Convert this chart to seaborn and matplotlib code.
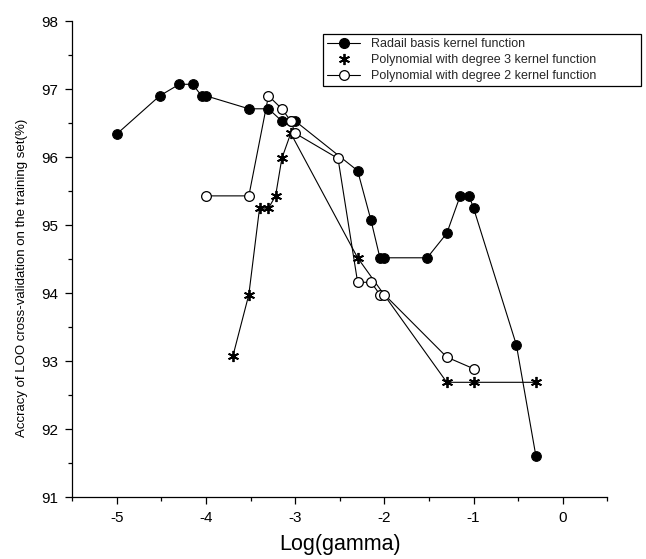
import matplotlib
matplotlib.use("Agg")
import matplotlib.pyplot as plt
from matplotlib.lines import Line2D
from matplotlib.ticker import MultipleLocator
import seaborn as sns
import pandas as pd

# ---- data ----
rbf_x = [-5.0, -4.52, -4.30, -4.15, -4.05, -4.0, -3.52, -3.30, -3.15, -3.05, -3.0,
         -2.30, -2.15, -2.05, -2.0, -1.52, -1.30, -1.15, -1.05, -1.0, -0.52, -0.30]
rbf_y = [96.34, 96.90, 97.07, 97.07, 96.90, 96.90, 96.71, 96.71, 96.53, 96.53, 96.53,
         95.80, 95.07, 94.52, 94.52, 94.52, 94.88, 95.43, 95.43, 95.25, 93.24, 91.60]

poly3_x = [-3.70, -3.52, -3.40, -3.30, -3.22, -3.15, -3.05, -2.30, -1.30, -1.0, -0.30]
poly3_y = [93.07, 93.98, 95.25, 95.25, 95.43, 95.98, 96.35, 94.52, 92.69, 92.69, 92.69]

poly2_x = [-4.0, -3.52, -3.30, -3.15, -3.05, -3.0, -2.52, -2.30, -2.15, -2.05, -2.0, -1.30, -1.0]
poly2_y = [95.43, 95.43, 96.90, 96.71, 96.53, 96.35, 95.98, 94.16, 94.16, 93.98, 93.98, 93.06, 92.89]

series_names = ["Radail basis kernel function",
                "Polynomial with degree 3 kernel function",
                "Polynomial with degree 2 kernel function"]

x_label = "Log(gamma)"
y_label = "Accracy of LOO cross-validation on the training set(%)"

sns.set_theme(style="ticks")
plt.rcParams["font.family"] = ["Liberation Sans", "DejaVu Sans"]
plt.rcParams["axes.unicode_minus"] = False

fig = plt.figure(figsize=(6.46, 5.59), dpi=100)
ax = fig.add_axes([0.1119, 0.1104, 0.8282, 0.852])

star = (6, 2, 0)
df_rbf = pd.DataFrame({"x": rbf_x, "y": rbf_y})
df_p3 = pd.DataFrame({"x": poly3_x, "y": poly3_y})
df_p2 = pd.DataFrame({"x": poly2_x, "y": poly2_y})

sns.lineplot(data=df_rbf, x="x", y="y", sort=False, estimator=None, ax=ax,
             color="black", linewidth=0.8, marker="o", markersize=7,
             markerfacecolor="black", markeredgecolor="black", legend=False, zorder=3)
sns.lineplot(data=df_p3, x="x", y="y", sort=False, estimator=None, ax=ax,
             color="black", linewidth=0.8, marker=star, markersize=8,
             markeredgewidth=1.3, markeredgecolor="black", legend=False, zorder=4)
sns.lineplot(data=df_p2, x="x", y="y", sort=False, estimator=None, ax=ax,
             color="black", linewidth=0.8, marker="o", markersize=7,
             markerfacecolor="white", markeredgecolor="black", markeredgewidth=0.9,
             legend=False, zorder=5)

ax.set_xlim(-5.5, 0.5)
ax.set_ylim(91, 98)
ax.xaxis.set_major_locator(MultipleLocator(1))
ax.xaxis.set_minor_locator(MultipleLocator(0.5))
ax.yaxis.set_major_locator(MultipleLocator(1))
ax.yaxis.set_minor_locator(MultipleLocator(0.5))
ax.tick_params(which="major", direction="out", length=5, width=0.9, labelsize=11,
               color="black", labelcolor="black", pad=5)
ax.tick_params(which="minor", direction="out", length=3, width=0.9, color="black")

for s in ["top", "right"]:
    ax.spines[s].set_visible(False)
for s in ["left", "bottom"]:
    ax.spines[s].set_linewidth(0.9)
    ax.spines[s].set_color("black")

ax.set_xlabel(x_label, fontsize=15.5, color="black", labelpad=6)
ax.set_ylabel(y_label, fontsize=9.5, color="black", labelpad=10)
ax.yaxis.set_label_coords(-0.083, 0.46)

handles = [
    Line2D([], [], color="black", lw=0.8, marker="o", markersize=7,
           markerfacecolor="black", markeredgecolor="black"),
    Line2D([], [], color="black", lw=0, linestyle="none", marker=star, markersize=8,
           markeredgewidth=1.3, markeredgecolor="black"),
    Line2D([], [], color="black", lw=0.8, marker="o", markersize=7,
           markerfacecolor="white", markeredgecolor="black", markeredgewidth=0.9),
]
leg = fig.legend(handles, series_names, loc="upper left",
                 bbox_to_anchor=(0.5, 0.0, 0.4923, 0.939), bbox_transform=fig.transFigure,
                 mode="expand", borderaxespad=0, fontsize=9, frameon=True,
                 fancybox=False, edgecolor="black", framealpha=1,
                 handlelength=2.6, handletextpad=0.9, labelspacing=0.3,
                 borderpad=0.35)
leg.get_frame().set_linewidth(0.9)

fig.savefig("out.png", dpi=100)
